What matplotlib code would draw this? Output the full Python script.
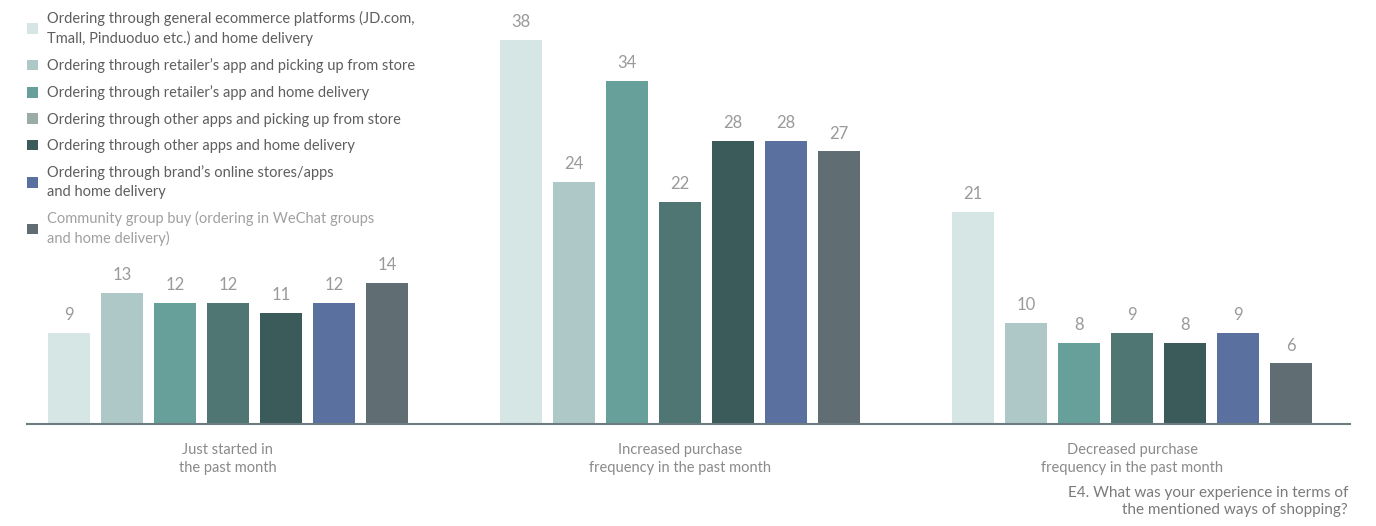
import matplotlib
matplotlib.use("Agg")
import matplotlib.pyplot as plt
from matplotlib.patches import Patch
import numpy as np

plt.rcParams['font.family'] = ['Lato', 'DejaVu Sans']

groups = ["Just started in\nthe past month",
          "Increased purchase\nfrequency in the past month",
          "Decreased purchase\nfrequency in the past month"]
series = [
    "Ordering through general ecommerce platforms (JD.com,\nTmall, Pinduoduo etc.) and home delivery",
    "Ordering through retailer\u2019s app and picking up from store",
    "Ordering through retailer\u2019s app and home delivery",
    "Ordering through other apps and picking up from store",
    "Ordering through other apps and home delivery",
    "Ordering through brand\u2019s online stores/apps\nand home delivery",
    "Community group buy (ordering in WeChat groups\nand home delivery)",
]
values = [
    [9, 38, 21],
    [13, 24, 10],
    [12, 34, 8],
    [12, 22, 9],
    [11, 28, 8],
    [12, 28, 9],
    [14, 27, 6],
]
bar_colors = ["#d6e6e4", "#adc8c6", "#67a09a", "#4f7672", "#3a5b59", "#5a71a0", "#606e73"]
legend_colors = ["#d6e6e4", "#adc8c6", "#67a09a", "#9aaba8", "#3a5b59", "#5a71a0", "#606e73"]
legend_text_colors = ["#5e5e5e"] * 6 + ["#a0a0a0"]
footnote = "E4. What was your experience in terms of\nthe mentioned ways of shopping?"

fig = plt.figure(figsize=(13.76, 5.26), dpi=100)
ax = fig.add_axes([27/1376, (526-424)/526, (1350-27)/1376, 404/526])

G = 8.53
base = np.arange(len(groups)) * G
for i, (vals, c) in enumerate(zip(values, bar_colors)):
    bars = ax.bar(base + i, vals, width=0.79, color=c, edgecolor='none')
    ax.bar_label(bars, labels=[str(v) for v in vals], padding=7,
                 color="#9a9a9a", fontsize=12)

ax.set_xlim(-0.79, 24.17)
ax.set_ylim(0, 40)
ax.set_yticks([])
ax.set_xticks(base + 3)
ax.set_xticklabels(groups, color="#8a8a8a", fontsize=10.5, linespacing=1.3)
ax.tick_params(axis='x', length=0, pad=14)
for s in ['top', 'right', 'left']:
    ax.spines[s].set_visible(False)
ax.spines['bottom'].set_color('#6b7b80')
ax.spines['bottom'].set_linewidth(1.5)

handles = [Patch(facecolor=c, edgecolor='none') for c in legend_colors]
leg = fig.legend(handles, series, loc='upper left', bbox_to_anchor=(21/1376, 1 - 5/526),
                 frameon=False, fontsize=10.5, handlelength=0.75, handleheight=0.75,
                 handletextpad=0.6, labelspacing=0.85, borderaxespad=0)
for t, tc in zip(leg.get_texts(), legend_text_colors):
    t.set_color(tc)
    t.set_linespacing(1.4)

fig.text(1348/1376, 1 - 486/526, footnote, ha='right', va='top', color="#7a7a7a",
         fontsize=11, linespacing=1.3)

fig.savefig("out.png", dpi=100)
